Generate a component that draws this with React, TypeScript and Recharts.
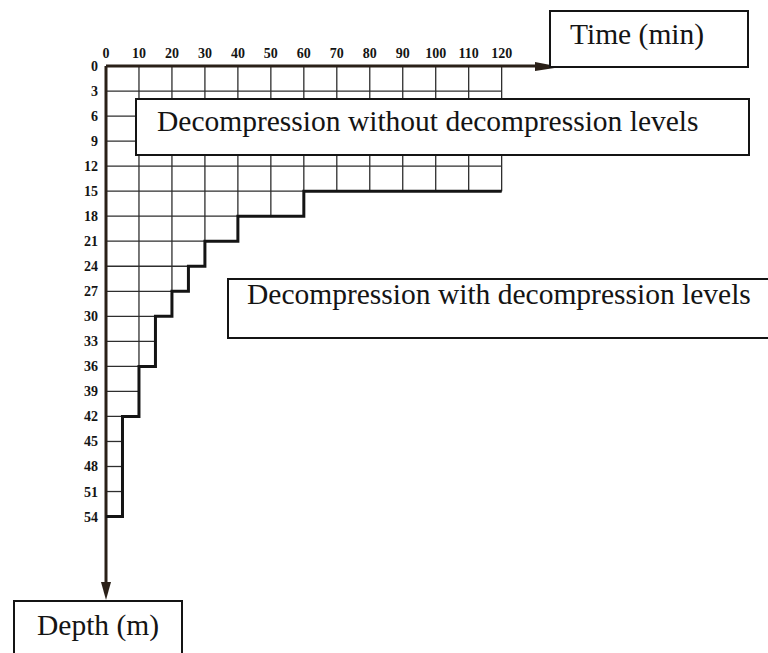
import React from 'react';
import { LineChart, Line, XAxis, YAxis, ReferenceLine } from 'recharts';

const timeTicks = [0, 10, 20, 30, 40, 50, 60, 70, 80, 90, 100, 110, 120];
const depthTicks = [0, 3, 6, 9, 12, 15, 18, 21, 24, 27, 30, 33, 36, 39, 42, 45, 48, 51, 54];

// no-decompression limit, traced as a staircase (time in min, depth in m)
const stairTimes = [120, 60, 60, 40, 40, 30, 30, 25, 25, 20, 20, 15, 15, 10, 10, 5, 5, 0];
const stairDepths = [15, 15, 18, 18, 21, 21, 24, 24, 27, 27, 30, 30, 36, 36, 42, 42, 54, 54];

const stairData = stairTimes.map((t, i) => ({ time: t, depth: stairDepths[i] }));

// grid only fills the area inside the staircase
const hLines = depthTicks
  .filter((d) => d > 0)
  .map((d) => ({ d, t: Math.max(...stairTimes.filter((_, i) => stairDepths[i] >= d)) }));
const vLines = timeTicks
  .filter((t) => t > 0)
  .map((t) => ({ t, d: Math.max(...stairDepths.filter((_, i) => stairTimes[i] >= t)) }));

const INK = '#141414';
const AXIS = '#2a2018';
const SERIF = '"Liberation Serif", "Times New Roman", serif';

const tickStyle = { fill: INK, fontFamily: SERIF, fontWeight: 700, fontSize: 14 };

const HArrow = (p: any) => {
  const { x1, x2, y1 } = p;
  const tip = Math.max(x1, x2);
  const start = Math.min(x1, x2);
  return (
    <g>
      <line x1={start} y1={y1} x2={tip - 20} y2={y1} stroke={AXIS} strokeWidth={3} />
      <polygon points={`${tip - 26},${y1 - 4} ${tip},${y1 + 1} ${tip - 26},${y1 + 5}`} fill={AXIS} />
    </g>
  );
};

const VArrow = (p: any) => {
  const { x1, y1, y2 } = p;
  const tip = Math.max(y1, y2);
  const start = Math.min(y1, y2);
  return (
    <g>
      <line x1={x1} y1={start} x2={x1} y2={tip - 14} stroke={AXIS} strokeWidth={3} />
      <polygon points={`${x1 - 5},${tip - 18} ${x1},${tip} ${x1 + 5},${tip - 18}`} fill={AXIS} />
    </g>
  );
};

interface BoxProps {
  label: string;
  left: number;
  top: number;
  width: number;
  height: number;
  textLeft: number;
  textTop: number;
  size: number;
}

const LabelBox: React.FC<BoxProps> = ({ label, left, top, width, height, textLeft, textTop, size }) => (
  <div
    style={{
      position: 'absolute',
      left,
      top,
      width,
      height,
      boxSizing: 'border-box',
      border: `2px solid ${INK}`,
      background: '#fff',
    }}
  >
    <span
      style={{
        position: 'absolute',
        left: textLeft - left - 2,
        top: textTop - top - 2,
        fontFamily: SERIF,
        fontSize: size,
        lineHeight: 1,
        color: INK,
        whiteSpace: 'nowrap',
      }}
    >
      {label}
    </span>
  </div>
);

export default function App() {
  return (
    <div style={{ position: 'absolute', left: 0, top: 0, width: 768, height: 653, background: '#fff', overflow: 'hidden' }}>
      <LineChart
        width={768}
        height={653}
        data={stairData}
        margin={{ top: 36, right: 207, left: 66, bottom: 53 }}
      >
        <XAxis
          type="number"
          dataKey="time"
          orientation="top"
          domain={[0, 138]}
          ticks={timeTicks}
          height={30}
          axisLine={false}
          tickLine={false}
          tick={tickStyle}
          interval={0}
        />
        <YAxis
          type="number"
          dataKey="depth"
          reversed
          domain={[0, 64]}
          ticks={depthTicks}
          width={40}
          axisLine={false}
          tickLine={false}
          tick={tickStyle}
          interval={0}
        />
        {hLines.map(({ d, t }) => (
          <ReferenceLine
            key={`h${d}`}
            segment={[{ x: 0, y: d }, { x: t, y: d }]}
            stroke="#2e2e2e"
            strokeWidth={1.3}
          />
        ))}
        {vLines.map(({ t, d }) => (
          <ReferenceLine
            key={`v${t}`}
            segment={[{ x: t, y: 0 }, { x: t, y: d }]}
            stroke="#2e2e2e"
            strokeWidth={1.3}
          />
        ))}
        <ReferenceLine y={0} shape={HArrow} />
        <ReferenceLine x={0} shape={VArrow} />
        <Line
          type="linear"
          dataKey="depth"
          stroke={INK}
          strokeWidth={3}
          dot={false}
          isAnimationActive={false}
        />
      </LineChart>
      <LabelBox label="Time (min)" left={549} top={10} width={200} height={58} textLeft={570} textTop={20} size={29.5} />
      <LabelBox
        label="Decompression without decompression levels"
        left={135}
        top={98}
        width={615}
        height={58}
        textLeft={157}
        textTop={107}
        size={29.5}
      />
      <LabelBox
        label="Decompression with decompression levels"
        left={227}
        top={278}
        width={600}
        height={61}
        textLeft={247}
        textTop={280}
        size={29.5}
      />
      <LabelBox label="Depth (m)" left={13} top={600} width={170} height={80} textLeft={37} textTop={611} size={29.5} />
    </div>
  );
}
